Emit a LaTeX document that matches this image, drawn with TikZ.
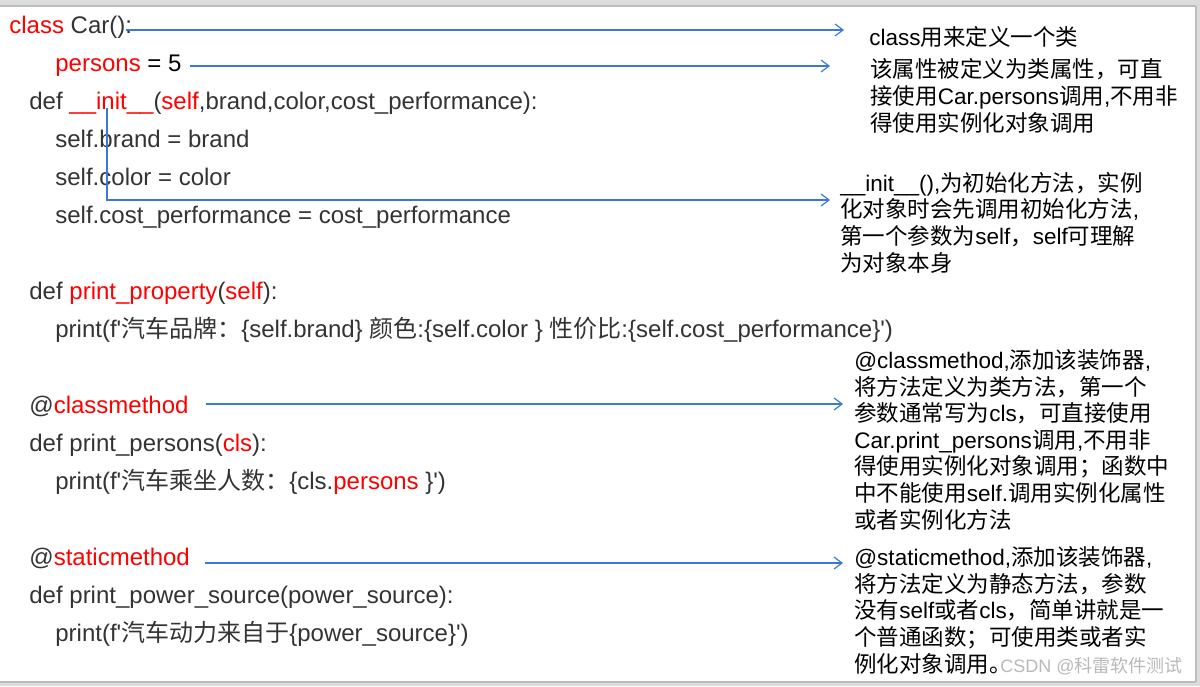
\documentclass[tikz,border=0pt]{standalone}
\usepackage{fontspec}
\setmainfont{Liberation Sans}
\newfontfamily\codefont{Liberation Sans}
\newfontfamily\zhfont{Noto Sans CJK SC}
\newcommand\zh[1]{{\zhfont #1}}
\newcommand\rg[1]{\textcolor{rouge}{#1}}
\usetikzlibrary{arrows.meta,calc}

\definecolor{bleu}{HTML}{3B78D8}
\definecolor{rouge}{HTML}{FF0000}
\definecolor{codegris}{HTML}{333333}
\definecolor{cadre}{HTML}{DCDCDC}
\definecolor{cadrefonce}{HTML}{BDBDBD}

\def\unit{0.5pt}

\begin{document}
\begin{tikzpicture}[x=\unit,y=-\unit]
\tikzstyle{code}=[anchor=base west,inner sep=0pt,text=codegris,font=\codefont\fontsize{12}{14}\selectfont]
% multi-line notes: base = baseline of the last line
\tikzstyle{note}=[anchor=base west,inner sep=0pt,align=left,font=\fontsize{11.25}{13.3}\selectfont]
\tikzstyle{fleche}=[draw=bleu,line width=0.6pt,-{Straight Barb[length=4pt,width=6pt]}]

\useasboundingbox (0,0) rectangle (1200,686);

% cadre gris
\fill[cadre] (0,0) rectangle (1200,6);
\draw[cadrefonce,line width=1pt] (0,6) -- (1196,6);
\fill[cadre] (1196,0) rectangle (1200,686);
\draw[cadrefonce,line width=1pt] (1196,6) -- (1196,682);
\fill[cadre] (0,682) rectangle (1200,686);
\draw[cadrefonce,line width=1pt] (0,682) -- (1196,682);

% code
\node[code] (c1) at (9,33) {\rg{class} Car():};
\node[code] (c2) at (55,71) {\rg{persons} \textcolor{black}{= 5}};
\node[code] (c3) at (29,109) {def \rg{\_\_init\_\_}(\rg{self},brand,color,cost\_performance):};
\node[code] (c4) at (55,147) {self.brand = brand};
\node[code] (c5) at (55,185) {self.color = color};
\node[code] (c6) at (55,223) {self.cost\_performance = cost\_performance};

\node[code] (c7) at (29,299) {def \rg{print\_property}(\rg{self}):};
\node[code] (c8) at (55,337) {print(f'\zh{汽车品牌：}\{self.brand\} \zh{颜色}:\{self.color \} \zh{性价比}:\{self.cost\_performance\}')};

\node[code] (c9) at (29,413) {@\rg{classmethod}};
\node[code] (c10) at (29,451) {def print\_persons(\rg{cls}):};
\node[code] (c11) at (55,489) {print(f'\zh{汽车乘坐人数：}\{cls.\rg{persons} \}')};

\node[code] (c12) at (29,565) {@\rg{staticmethod}};
\node[code] (c13) at (29,603) {def print\_power\_source(power\_source):};
\node[code] (c14) at (55,641) {print(f'\zh{汽车动力来自于}\{power\_source\}')};

% remarques
\node[note] (n1) at (869,45) {class\zh{用来定义一个类}};
\node[note] (n2) at (870,131) {\zh{该属性被定义为类属性，可直}\\
\zh{接使用}Car.persons\zh{调用},\zh{不用非}\\
\zh{得使用实例化对象调用}};
\node[note] (n3) at (840,271) {\_\_init\_\_(),\zh{为初始化方法，实例}\\
\zh{化对象时会先调用初始化方法},\\
\zh{第一个参数为}self\zh{，}self\zh{可理解}\\
\zh{为对象本身}};
\node[note] (n4) at (854,528) {@classmethod,\zh{添加该装饰器},\\
\zh{将方法定义为类方法，第一个}\\
\zh{参数通常写为}cls\zh{，可直接使用}\\
Car.print\_persons\zh{调用},\zh{不用非}\\
\zh{得使用实例化对象调用；函数中}\\
\zh{中不能使用}self.\zh{调用实例化属性}\\
\zh{或者实例化方法}};
\node[note] (n5) at (854,672) {@staticmethod,\zh{添加该装饰器},\\
\zh{将方法定义为静态方法，参数}\\
\zh{没有}self\zh{或者}cls\zh{，简单讲就是一}\\
\zh{个普通函数；可使用类或者实}\\
\zh{例化对象调用。}};
\node[note,text=gray!55,font=\fontsize{9}{11}\selectfont] (wm) at (1000,672) {CSDN @\zh{科雷软件测试}};

% fleches
\coordinate (t1) at (844,30);
\coordinate (t2) at (830,66);
\coordinate (i0) at (107,108);
\coordinate (t3) at (830,200);
\coordinate (t4) at (843,404);
\coordinate (t5) at (843,563);

\draw[fleche] ($(c1.base east)+(-6,-3)$) -- (t1);
\draw[fleche] ($(c2.base east)+(8,-5)$) -- (t2);
\draw[fleche] (i0) |- (t3);
\draw[fleche] ($(c9.base east)+(17,-9)$) -- (t4);
\draw[fleche] ($(c12.base east)+(15,-2)$) -- (t5);

\end{tikzpicture}
\end{document}
